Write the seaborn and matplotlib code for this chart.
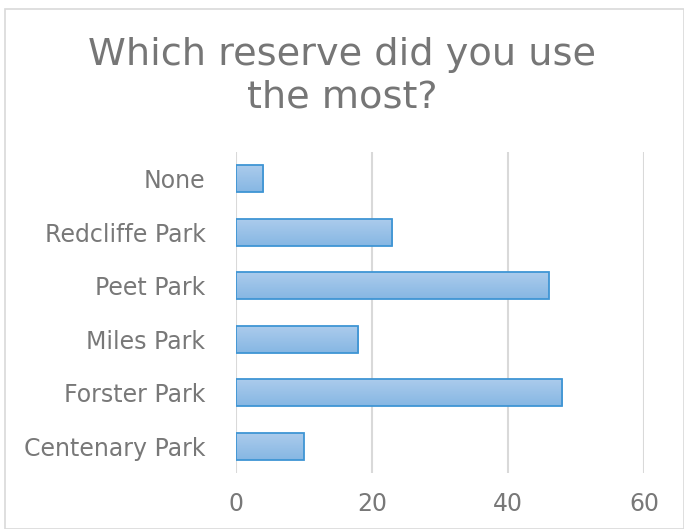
import matplotlib
matplotlib.use("Agg")
import matplotlib.pyplot as plt
import seaborn as sns
import numpy as np
import pandas as pd
from matplotlib.patches import Rectangle
from matplotlib.colors import LinearSegmentedColormap

categories = ["None", "Redcliffe Park", "Peet Park", "Miles Park", "Forster Park", "Centenary Park"]
values = [4, 23, 46, 18, 48, 10]
xticks = [0, 20, 40, 60]
title = "Which reserve did you use\nthe most?"

sns.set_theme(style="white")
plt.rcParams['font.family'] = ['DejaVu Sans']

df = pd.DataFrame({"reserve": categories, "count": values})

fig = plt.figure(figsize=(6.84, 5.29), dpi=100)
ax = fig.add_axes([236/684, 1-473/529, (644-236)/684, (473-152)/529])

sns.barplot(data=df, y="reserve", x="count", order=categories, orient="h",
            color="#9dc3e6", edgecolor="#3f95d4", linewidth=1.3, width=0.5,
            saturation=1, ax=ax)

# gradient fill clipped to each bar
grad = np.linspace(0, 1, 64).reshape(-1, 1)
cmap = LinearSegmentedColormap.from_list("g", ["#abcbec", "#86b7e3"])
for p in list(ax.patches):
    x0, y0 = p.get_x(), p.get_y()
    w, h = p.get_width(), p.get_height()
    im = ax.imshow(grad, cmap=cmap, aspect="auto", extent=[x0, x0 + w, y0 + h, y0],
                   origin="upper", zorder=p.get_zorder() - 0.1, interpolation="bilinear")
    im.set_clip_path(p)
    p.set_facecolor("none")
    p.set_zorder(3)

ax.set_xlim(0, 60)
ax.set_ylim(5.5, -0.5)
ax.set_xticks(xticks)
ax.set_xlabel("")
ax.set_ylabel("")
ax.grid(axis="x", color="#d9d9d9", linewidth=1.5)
ax.set_axisbelow(True)
for s in ax.spines.values():
    s.set_visible(False)
ax.tick_params(axis="both", length=0, labelsize=17, colors="#787878")
ax.tick_params(axis="x", pad=14)
ax.tick_params(axis="y", pad=22)

fig.text(0.5, 1 - 76/529, title, ha="center", va="center", fontsize=27.5,
         color="#767676", linespacing=1.23)

fig.patches.append(Rectangle((4.5/684, 0.5/529), 679/684, 1 - 9.5/529, transform=fig.transFigure,
                             fill=False, edgecolor="#d9d9d9", linewidth=1.2))

fig.savefig("out.png", dpi=100)
